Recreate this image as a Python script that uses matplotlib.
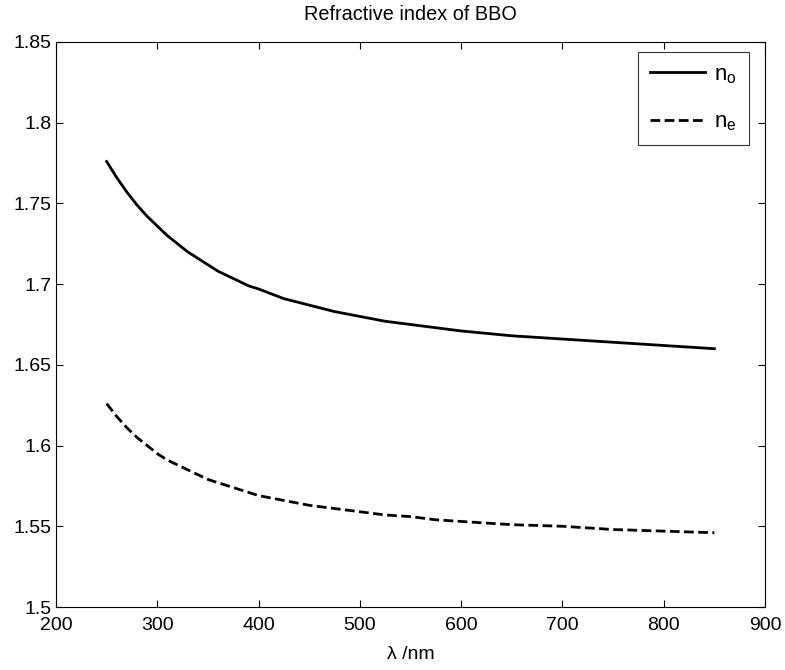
import matplotlib
matplotlib.use("Agg")
import matplotlib.pyplot as plt

wavelength = [250, 260, 270, 280, 290, 300, 310, 320, 330, 340, 350, 360, 370, 380, 390, 400,
              425, 450, 475, 500, 525, 550, 575, 600, 650, 700, 750, 800, 850]
n_o = [1.776, 1.766, 1.757, 1.749, 1.742, 1.736, 1.730, 1.725, 1.720, 1.716, 1.712, 1.708, 1.705, 1.702, 1.699, 1.697,
       1.691, 1.687, 1.683, 1.680, 1.677, 1.675, 1.673, 1.671, 1.668, 1.666, 1.664, 1.662, 1.660]
n_e = [1.626, 1.618, 1.611, 1.605, 1.600, 1.595, 1.591, 1.588, 1.585, 1.582, 1.579, 1.577, 1.575, 1.573, 1.571, 1.569,
       1.566, 1.563, 1.561, 1.559, 1.557, 1.556, 1.554, 1.553, 1.551, 1.550, 1.548, 1.547, 1.546]
xticks = [200, 300, 400, 500, 600, 700, 800, 900]
yticks = [1.5, 1.55, 1.6, 1.65, 1.7, 1.75, 1.8, 1.85]
ytick_labels = ['1.5', '1.55', '1.6', '1.65', '1.7', '1.75', '1.8', '1.85']

plt.rcParams['font.family'] = ['Liberation Sans', 'DejaVu Sans']
W, H = 785, 670
fig = plt.figure(figsize=(W / 100, H / 100), dpi=100)
L, R, T, B = 56, 765, 42, 607
ax = fig.add_axes([L / W, 1 - B / H, (R - L) / W, (B - T) / H])
ax.plot(wavelength, n_o, color='black', lw=2.0, ls='-', label='n$_\\mathregular{o}$')
ax.plot(wavelength, n_e, color='black', lw=2.0, ls=(0, (3.5, 1.6)), label='n$_\\mathregular{e}$')
ax.set_xlim(200, 900)
ax.set_ylim(1.5, 1.85)
ax.set_xticks(xticks)
ax.set_xticklabels([str(v) for v in xticks])
ax.set_yticks(yticks)
ax.set_yticklabels(ytick_labels)
ax.tick_params(direction='in', top=True, right=True, length=5, width=0.8, labelsize=14)
ax.tick_params(axis='x', pad=7)
ax.tick_params(axis='y', pad=3)
for s in ax.spines.values():
    s.set_linewidth(0.8)
ax.set_title('Refractive index of BBO', fontsize=14.3, pad=16)
ax.set_xlabel('λ /nm', fontsize=14, labelpad=9)
leg = ax.legend(loc='upper right', fontsize=16, frameon=True, fancybox=False,
                edgecolor='black', handlelength=2.5, handletextpad=0.4, borderpad=0.55,
                labelspacing=1.15, borderaxespad=0,
                bbox_to_anchor=(749 / W, 1 - 52 / H), bbox_transform=fig.transFigure)
leg.get_frame().set_linewidth(0.8)
fig.savefig('out.png', dpi=100)
